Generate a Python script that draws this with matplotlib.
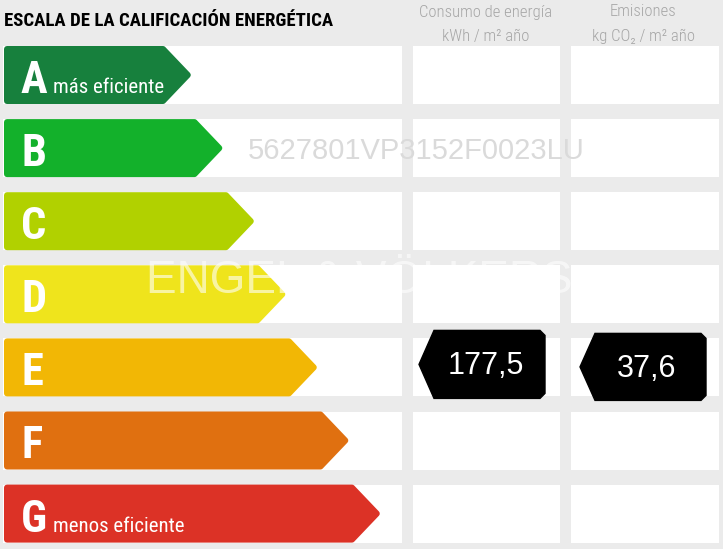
import matplotlib.pyplot as plt
from matplotlib.patches import Polygon, Rectangle

# energy rating scale
ratings = ['A', 'B', 'C', 'D', 'E', 'F', 'G']
rating_colors = ['#17803d', '#13b12b', '#b1d100', '#efe41c', '#f2b705', '#e07010', '#dc3226']
rating_notes = {'A': 'más eficiente', 'G': 'menos eficiente'}

# values of the property
consumo_rating = 'E'
consumo_value = '177,5'
emisiones_rating = 'E'
emisiones_value = '37,6'
ref_catastral = '5627801VP3152F0023LU'

title = 'ESCALA DE LA CALIFICACIÓN ENERGÉTICA'
header_consumo = ['Consumo de energía', 'kWh / m² año']
header_emisiones = ['Emisiones', 'kg CO₂ / m² año']

narrow = ['Roboto Condensed', 'Archivo Narrow', 'DejaVu Sans']
arial = ['Liberation Sans', 'DejaVu Sans']

fig = plt.figure(figsize=(7.23, 5.49), dpi=100)
fig.patch.set_facecolor('#ebebeb')
ax = fig.add_axes([0, 0, 1, 1])
ax.set_xlim(0, 723)
ax.set_ylim(549, 0)
ax.axis('off')

row_top = 46
row_step = 73.1
row_h = 58
r = 3  # corner rounding (half the edge width)

for i, (lab, col) in enumerate(zip(ratings, rating_colors)):
    top = row_top + row_step * i
    # white cells
    ax.add_patch(Rectangle((3, top), 399, row_h, facecolor='white', edgecolor='none'))
    ax.add_patch(Rectangle((413, top), 147, row_h, facecolor='white', edgecolor='none'))
    ax.add_patch(Rectangle((571, top), 148, row_h, facecolor='white', edgecolor='none'))

    # coloured arrow
    tip = 192 + 31.5 * i
    half = row_h / 2
    pts = [(4 + r, top + r), (tip - half, top + r), (tip - r * 1.4, top + half),
           (tip - half, top + row_h - r), (4 + r, top + row_h - r)]
    ax.add_patch(Polygon(pts, closed=True, facecolor=col, edgecolor=col,
                         linewidth=r * 2 * 0.72, joinstyle='round', zorder=2))
    ax.text(21, top + 47, lab, fontsize=32, fontweight='bold', family=narrow,
            color='white', va='baseline', ha='left', zorder=3)
    if lab in rating_notes:
        ax.text(53, top + 47, rating_notes[lab], fontsize=15, family=narrow,
                color='white', va='baseline', ha='left', zorder=3)


def badge(x0, x1, y0, y1, text):
    mid = (y0 + y1) / 2
    c = 5
    pts = [(x0, mid), (x0 + 15, y0), (x1 - c, y0), (x1, y0 + c),
           (x1, y1 - c), (x1 - c, y1), (x0 + 15, y1)]
    ax.add_patch(Polygon(pts, closed=True, facecolor='black', edgecolor='black',
                         linewidth=1, zorder=4))
    ax.text((x0 + x1) / 2 + 4, mid + 2, text, fontsize=22, family=arial,
            color='white', ha='center', va='center', zorder=5)


ic = ratings.index(consumo_rating)
top = row_top + row_step * ic
badge(419, 545, top - 8, top + 60, consumo_value)
ie = ratings.index(emisiones_rating)
top = row_top + row_step * ie
badge(580, 706, top - 5, top + 62, emisiones_value)

# headers
ax.text(4, 21, title, fontsize=13.5, fontweight='bold', family=narrow,
        color='black', ha='left', va='center')
for cx, lines in [(486, header_consumo), (643, header_emisiones)]:
    ax.text(cx, 12, lines[0], fontsize=12, fontweight='light', family=narrow,
            color='#a6a6a6', ha='center', va='center')
    ax.text(cx, 36, lines[1], fontsize=12, fontweight='light', family=narrow,
            color='#a6a6a6', ha='center', va='center')

# watermarks
ax.text(416, 151, ref_catastral, fontsize=21, family=arial, color='#dadada',
        ha='center', va='center', zorder=6)
ax.text(359, 281, 'ENGEL & VÖLKERS', fontsize=33, family=arial, color='white',
        alpha=0.6, ha='center', va='center', zorder=6)

fig.savefig('out.png', dpi=100, facecolor=fig.get_facecolor())
